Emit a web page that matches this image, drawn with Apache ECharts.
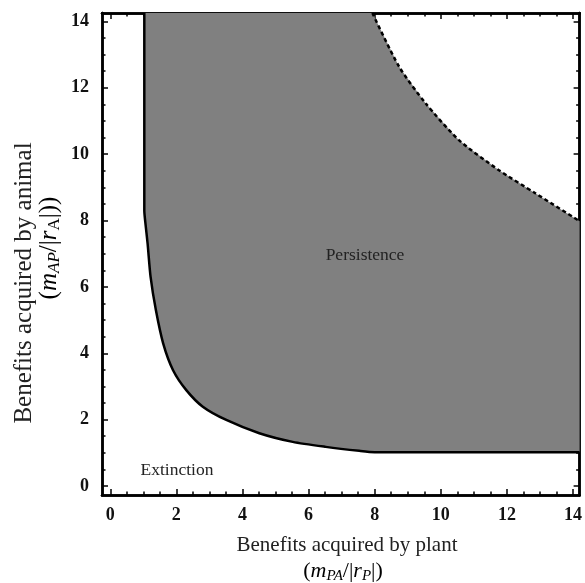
<!DOCTYPE html>
<html>
<head>
<meta charset="utf-8">
<script src="https://cdn.jsdelivr.net/npm/echarts@6/dist/echarts.min.js"></script>
<style>
  html, body { margin: 0; padding: 0; background: #fff; }
  #chart { width: 585px; height: 583px; }
</style>
</head>
<body>
<div id="chart"></div>
<script>
// lower boundary (solid): vertical at x~1, curve down to (8,1), then flat
var lowerX = [1.03, 1.03, 1.06, 1.13, 1.22, 1.38, 1.60, 1.90, 2.30, 2.80, 3.51, 4.51, 5.52, 6.52, 7.53, 8.0, 14.2];
var lowerY = [14.25, 8.3, 7.95, 7.3, 6.3, 5.3, 4.3, 3.49, 2.89, 2.39, 1.99, 1.59, 1.33, 1.18, 1.06, 1.02, 1.02];
// upper boundary (dashed)
var upperX = [7.93, 8.74, 9.54, 10.55, 11.75, 12.86, 14.2];
var upperY = [14.25, 12.63, 11.53, 10.42, 9.52, 8.82, 7.98];

var xMin = -0.25, xMax = 14.2;
var yMin = -0.27, yMax = 14.25;
var majorTicks = [0, 2, 4, 6, 8, 10, 12, 14];
var minorTicks = [0.5, 1, 1.5, 2.5, 3, 3.5, 4.5, 5, 5.5, 6.5, 7, 7.5,
                  8.5, 9, 9.5, 10.5, 11, 11.5, 12.5, 13, 13.5];

var SERIF = '"Liberation Serif", "DejaVu Serif", serif';

var pairs = function (xs, ys) {
    var out = [];
    for (var i = 0; i < xs.length; ++i) out.push([xs[i], ys[i]]);
    return out;
};
var lowerPts = pairs(lowerX, lowerY);
var upperPts = pairs(upperX, upperY);
// polygon: lower boundary, up the right edge, upper boundary reversed, along the top
var regionPts = lowerPts.concat(upperPts.slice().reverse());

var chart = echarts.init(document.getElementById('chart'));

var frameLine = {show: true, onZero: false, lineStyle: {color: '#000', width: 2.5}};
var labelStyle = {fontFamily: SERIF, fontSize: 18, fontWeight: 'bold', color: '#111'};
var mkAxis = function (min, max, pos, ticks, len, margin) {
    return {
        type: 'value', position: pos, min: min, max: max,
        axisLine: frameLine,
        axisTick: {show: true, inside: true, length: len, customValues: ticks,
                   lineStyle: {color: '#000', width: 1.5}},
        axisLabel: margin ? echarts.util.extend({show: true, customValues: majorTicks, margin: margin}, labelStyle)
                          : {show: false},
        splitLine: {show: false}
    };
};

var mathRich = function (size, sub) {
    return {
        n: {fontFamily: SERIF, fontSize: size, color: '#222'},
        i: {fontFamily: SERIF, fontSize: size, fontStyle: 'italic', color: '#222'},
        s: {fontFamily: SERIF, fontSize: sub, fontStyle: 'italic', color: '#222', padding: [Math.round(sub * 0.7), 0, 0, 0]},
        u: {fontFamily: SERIF, fontSize: sub, color: '#222', padding: [Math.round(sub * 0.7), 0, 0, 0]}
    };
};

var option = {
    animation: false,
    backgroundColor: '#fff',
    grid: {left: 102, right: 4, top: 13, bottom: 88},
    xAxis: [
        mkAxis(xMin, xMax, 'bottom', majorTicks, 6, 11),
        mkAxis(xMin, xMax, 'bottom', minorTicks, 3.5, 0),
        mkAxis(xMin, xMax, 'top', majorTicks, 6, 0),
        mkAxis(xMin, xMax, 'top', minorTicks, 3.5, 0)
    ],
    yAxis: [
        mkAxis(yMin, yMax, 'left', majorTicks, 6, 13),
        mkAxis(yMin, yMax, 'left', minorTicks, 3.5, 0),
        mkAxis(yMin, yMax, 'right', majorTicks, 6, 0),
        mkAxis(yMin, yMax, 'right', minorTicks, 3.5, 0)
    ],
    series: [
        {
            type: 'custom',
            xAxisIndex: 0, yAxisIndex: 0,
            data: [0],
            z: 1,
            renderItem: function (params, api) {
                var pts = regionPts.map(function (p) { return api.coord(p); });
                return {type: 'polygon', shape: {points: pts},
                        style: {fill: '#808080', stroke: null}};
            }
        },
        {
            type: 'line', xAxisIndex: 0, yAxisIndex: 0,
            data: lowerPts, smooth: 0.25, showSymbol: false, z: 3,
            lineStyle: {color: '#000', width: 2.5}
        },
        {
            type: 'line', xAxisIndex: 0, yAxisIndex: 0,
            data: upperPts, smooth: 0.25, showSymbol: false, z: 3,
            lineStyle: {color: '#000', width: 2.5, type: [4, 3]}
        }
    ],
    graphic: [
        {type: 'text', x: 365, y: 255, z: 10,
         style: {text: 'Persistence', fontFamily: SERIF, fontSize: 17.5, fill: '#222',
                 align: 'center', verticalAlign: 'middle'}},
        {type: 'text', x: 177, y: 470, z: 10,
         style: {text: 'Extinction', fontFamily: SERIF, fontSize: 17.5, fill: '#222',
                 align: 'center', verticalAlign: 'middle'}},
        {type: 'text', x: 347, y: 545,
         style: {text: 'Benefits acquired by plant', fontFamily: SERIF, fontSize: 21, fill: '#222',
                 align: 'center', verticalAlign: 'middle'}},
        {type: 'text', x: 343, y: 571,
         style: {text: '{n|(}{i|m}{s|PA}{n|/|}{i|r}{s|P}{n||)}', rich: mathRich(22, 15),
                 align: 'center', verticalAlign: 'middle'}},
        {type: 'text', x: 24, y: 283, rotation: Math.PI / 2,
         style: {text: 'Benefits acquired by animal', fontFamily: SERIF, fontSize: 25, fill: '#222',
                 align: 'center', verticalAlign: 'middle'}},
        {type: 'text', x: 49, y: 248, rotation: Math.PI / 2,
         style: {text: '{n|(}{i|m}{s|AP}{n|/|}{i|r}{u|A}{n||))}', rich: mathRich(25, 17),
                 align: 'center', verticalAlign: 'middle'}}
    ]
};
chart.setOption(option);
</script>
</body>
</html>
